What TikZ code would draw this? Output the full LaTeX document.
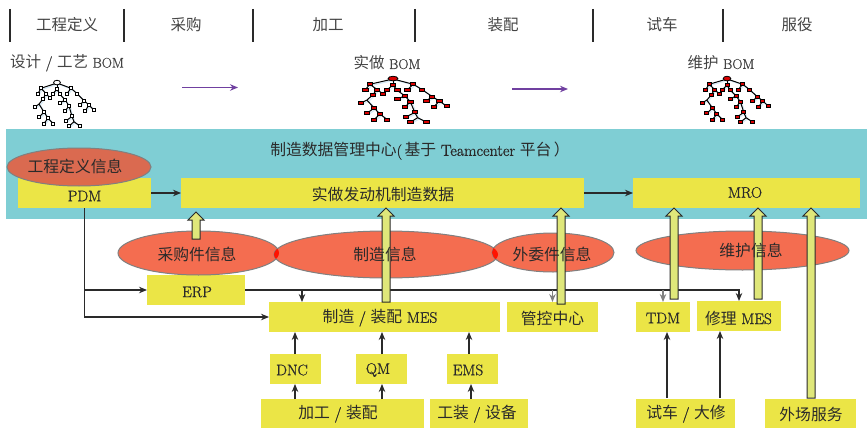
\documentclass[tikz,border=0pt]{standalone}
\usepackage{fontspec}
\usetikzlibrary{arrows.meta,calc,shapes.geometric}
\setmainfont{Latin Modern Roman}[Scale=0.97,FakeBold=1.2]
\newfontfamily\cjk{Noto Sans CJK SC}
\newcommand{\zh}[1]{{\cjk #1}}
\newcommand{\sized}[2]{{\fontsize{#1}{16}\selectfont #2}}
\definecolor{bandteal}{HTML}{7FCED4}
\definecolor{boxyellow}{HTML}{EBE546}
\definecolor{infored}{HTML}{F46D50}
\definecolor{pdmred}{HTML}{DD674C}
\definecolor{liftgreen}{HTML}{DFE77A}
\definecolor{inkdark}{HTML}{2A2A2A}
\definecolor{headgray}{HTML}{444444}
\definecolor{flowpurple}{HTML}{7040A0}
\definecolor{treeshade}{HTML}{D6EAF6}
\tikzset{
  x=1pt,y=-1pt,
  boxnode/.style={fill=boxyellow,inner sep=0pt,outer sep=0pt},
  infonode/.style={ellipse,fill=infored,draw=gray,line width=1pt,inner sep=0pt,outer sep=0pt},
  txt/.style={text=inkdark,inner sep=0pt,font=\fontsize{15.8}{16}\selectfont},
  headtxt/.style={text=headgray,inner sep=0pt,font=\fontsize{15.5}{16}\selectfont},
  flow/.style={draw=inkdark,line width=1.1pt,-{Stealth[length=8pt,width=6.5pt]}},
  flowgray/.style={draw=gray,line width=1.1pt,-{Stealth[length=8pt,width=6.5pt]}},
  stage/.style={draw=inkdark,line width=1.6pt},
  phase/.style={draw=flowpurple,line width=1.2pt,-{Stealth[length=8pt,width=6.5pt]}},
  lift/.style={fill=liftgreen,draw=inkdark,line width=1pt,line join=miter},
}

% hollow upward arrow from point #1 towards tip #2
\newcommand{\liftarrow}[2]{%
  \draw[lift] ($(#1)+(-4,0)$) -- ($(#2)+(-4,8)$) -- ($(#2)+(-8,8)$) -- (#2)
    -- ($(#2)+(8,8)$) -- ($(#2)+(4,8)$) -- ($(#1)+(4,0)$) -- cycle;}

% small BOM tree: #1 root position, #2 horizontal stretch, #3 fill of the members
\newcommand{\bomtree}[3]{%
  \begin{scope}[shift={(#1)},xscale=#2,yscale=0.88]
    \foreach \off/\col/\wd in {1.2/treeshade/1.2,0/black/1.0}{
      \foreach \ax/\ay/\bx/\by in {
        0/0/-16/6, 0/0/0/7, 0/0/14/6,
        -16/6/-19/12, -16/6/-11/12, -11/12/-14/18, -11/12/-7/17,
        -14/18/-18/24, -18/24/-22/27, -18/24/-13/33,
        -13/33/-18/39, -13/33/-9/40, -9/40/-13/46, -9/40/-4/46,
        0/7/-4/12, 0/7/3/13, 3/13/8/19, 8/19/3/23, 8/19/12/26,
        12/26/8/32, 12/26/15/38, 15/38/9/43, 15/38/17/44,
        17/44/12/49, 17/44/23/49,
        14/6/10/12, 14/6/20/12, 20/12/27/20, 27/20/23/25,
        27/20/32/25, 32/25/28/32, 32/25/37/31}{
        \draw[draw=\col,line width=\wd pt] (\ax+\off,\ay+\off) -- (\bx+\off,\by+\off);
      }
    }
    \foreach \px/\py in {-16/6,0/7,14/6,-19/12,-11/12,-14/18,-7/17,-22/27,-13/33,
        -18/39,-9/40,-4/12,3/13,8/19,3/23,12/26,8/32,15/38,9/43,10/12,20/12,
        27/20,23/25,32/25,28/32,37/31,-13/46,-4/46,12/49,23/49}{
      \fill[#3,draw=black,line width=0.9pt] (\px-1.8,\py-1.7) rectangle (\px+1.8,\py+1.7);
    }
    \fill[#3,draw=black,line width=0.8pt] (0,-0.5) ellipse [x radius=3.4,y radius=2.6];
  \end{scope}}

\begin{document}
\begin{tikzpicture}
\useasboundingbox (0,0) rectangle (867,428);

% process stages along the top
\foreach \bx in {10,124,253,415,593,723}{
  \draw[stage] (\bx,9) -- (\bx,42);
}
\node[headtxt] (h1) at (67,25) {\zh{工程定义}};
\node[headtxt] (h2) at (186,25) {\zh{采购}};
\node[headtxt] (h3) at (328,25) {\zh{加工}};
\node[headtxt] (h4) at (503,25) {\zh{装配}};
\node[headtxt] (h5) at (662,25) {\zh{试车}};
\node[headtxt] (h6) at (797,25) {\zh{服役}};

% BOM views
\node[headtxt] (b1) at (67,63) {\zh{设计} / \zh{工艺} \sized{14.5}{BOM}};
\node[headtxt] (b2) at (387,63) {\zh{实做} \sized{14.5}{BOM}};
\node[headtxt] (b3) at (721,63) {\zh{维护} \sized{14.5}{BOM}};
\bomtree{57,83}{1}{white}
\bomtree{393,79}{1.45}{red!85!black}
\bomtree{727,79}{1.12}{red!85!black}
\coordinate (pa1) at (182,87.5);
\coordinate (pb1) at (238,87.5);
\coordinate (pa2) at (512,89);
\coordinate (pb2) at (568,89);
\draw[phase] (pa1) -- (pb1);
\draw[phase] (pa2) -- (pb2);

% data management band
\node[fill=bandteal,inner sep=0pt,outer sep=0pt,minimum width=861pt,minimum height=90pt] (band) at (436.5,174) {};
\node[txt] (bandtitle) at (420,151) {\zh{制造数据管理中心}(\,\zh{基于} \sized{16.5}{Teamcenter} \zh{平台}\,\zh{）}};

% boxes
\node[boxnode,minimum width=133pt,minimum height=30pt] (pdm) at (84.5,193) {};
\node[boxnode,minimum width=403pt,minimum height=30pt] (asbuilt) at (382.5,193) {};
\node[boxnode,minimum width=227pt,minimum height=30pt] (mro) at (746.5,193) {};
\node[boxnode,minimum width=98pt,minimum height=30pt] (erp) at (196,290) {};
\node[boxnode,minimum width=231pt,minimum height=30pt] (mes) at (384.5,317) {};
\node[boxnode,minimum width=91pt,minimum height=30pt] (ctrl) at (552.5,317) {};
\node[boxnode,minimum width=54pt,minimum height=30pt] (tdm) at (663,317) {};
\node[boxnode,minimum width=84pt,minimum height=30pt] (rep) at (739,316) {};
\node[boxnode,minimum width=51pt,minimum height=30pt] (dnc) at (295.5,369) {};
\node[boxnode,minimum width=51pt,minimum height=30pt] (qm) at (381.5,369) {};
\node[boxnode,minimum width=51pt,minimum height=30pt] (ems) at (472.5,369) {};
\node[boxnode,minimum width=163pt,minimum height=29pt] (mach) at (342.5,413.5) {};
\node[boxnode,minimum width=98pt,minimum height=29pt] (tool) at (479,413.5) {};
\node[boxnode,minimum width=99pt,minimum height=29pt] (test) at (685.5,413.5) {};
\node[boxnode,minimum width=91pt,minimum height=29pt] (field) at (810.5,413.5) {};

% information ellipses
\node[ellipse,fill=pdmred,fill opacity=0.97,draw=gray,line width=1pt,inner sep=0pt,minimum width=144pt,minimum height=38pt] (edef) at (79,167) {};
\node[infonode,minimum width=161pt,minimum height=44pt] (buy) at (198.5,253) {};
\node[infonode,minimum width=224pt,minimum height=47pt] (make) at (386,254.5) {};
\node[infonode,minimum width=122pt,minimum height=39pt] (out) at (553,252.5) {};
\node[infonode,minimum width=213pt,minimum height=39pt] (svc) at (742.5,250.5) {};
\begin{scope}
  \clip (198.5,253) ellipse [x radius=80.5,y radius=22];
  \fill[red!85!orange] (386,254.5) ellipse [x radius=112,y radius=23.5];
\end{scope}
\begin{scope}
  \clip (386,254.5) ellipse [x radius=112,y radius=23.5];
  \fill[red!85!orange] (553,252.5) ellipse [x radius=61,y radius=19.5];
\end{scope}

% connectors
\draw[flow] (pdm.east) -- (asbuilt.west);
\draw[flow] (asbuilt.east) -- (mro.west);
\draw[flow] (pdm.south) |- (mes.west);
\draw[flow] (pdm.south |- erp.west) -- (erp.west);
\draw[flow] (erp.east) -| (rep.north);
\coordinate (mestap) at (302,290);
\draw[flow] (mestap) -- (mestap |- mes.north);
\draw[flowgray] (ctrl.north |- erp.east) -- (ctrl.north);
\draw[flowgray] (tdm.north |- erp.east) -- (tdm.north);
\coordinate (dncup) at (295,354);
\coordinate (qmup) at (382,354);
\coordinate (emsup) at (469,354);
\draw[flow] (dncup) -- (dncup |- mes.south);
\draw[flow] (qmup) -- (qmup |- mes.south);
\draw[flow] (emsup) -- (emsup |- mes.south);
\coordinate (machdnc) at (295,399);
\coordinate (machqm) at (382,399);
\coordinate (toolems) at (471,399);
\draw[flow] (machdnc) -- (machdnc |- dnc.south);
\draw[flow] (machqm) -- (machqm |- qm.south);
\draw[flow] (toolems) -- (toolems |- ems.south);
\coordinate (testtdm) at (667,398);
\coordinate (testrep) at (720,398);
\draw[flow] (testtdm) -- (testtdm |- tdm.south);
\draw[flow] (testrep) -- (testrep |- rep.south);

% hollow arrows feeding the band
\coordinate (f1) at (196,239);
\coordinate (t1) at (196,212);
\coordinate (f2) at (386,302);
\coordinate (t2) at (386,208);
\coordinate (f3) at (561,304);
\coordinate (t3) at (561,208);
\coordinate (f4) at (674,299);
\coordinate (t4) at (674,208);
\coordinate (f5) at (758,299);
\coordinate (t5) at (758,208);
\coordinate (f6) at (811,398);
\coordinate (t6) at (811,208);
\foreach \i in {1,...,6}{ \liftarrow{f\i}{t\i} }

% labels
\node[txt] (l1) at (75,166.5) {\zh{工程定义信息}};
\node[txt] (l2) at (84.5,196) {PDM};
\node[txt] (l3) at (383,194) {\zh{实做发动机制造数据}};
\node[txt] (l4) at (745,192.5) {MRO};
\node[txt] (l5) at (197,254) {\zh{采购件信息}};
\node[txt] (l6) at (385,254.5) {\zh{制造信息}};
\node[txt] (l7) at (552,254) {\zh{外委件信息}};
\node[txt] (l8) at (751,250.5) {\zh{维护信息}};
\node[txt] (l9) at (197,292) {ERP};
\node[txt] (l10) at (380,318) {\zh{制造} / \zh{装配} MES};
\node[txt] (l11) at (552.5,318) {\zh{管控中心}};
\node[txt] (l12) at (663,318) {TDM};
\node[txt] (l13) at (738.5,318) {\zh{修理} MES};
\node[txt] (l14) at (292,370) {DNC};
\node[txt] (l15) at (378,370) {QM};
\node[txt] (l16) at (468,370) {EMS};
\node[txt] (l17) at (338,414) {\zh{加工} / \zh{装配}};
\node[txt] (l18) at (477,414) {\zh{工装} / \zh{设备}};
\node[txt] (l19) at (686,414) {\zh{试车} / \zh{大修}};
\node[txt] (l20) at (811,414) {\zh{外场服务}};
\end{tikzpicture}
\end{document}
